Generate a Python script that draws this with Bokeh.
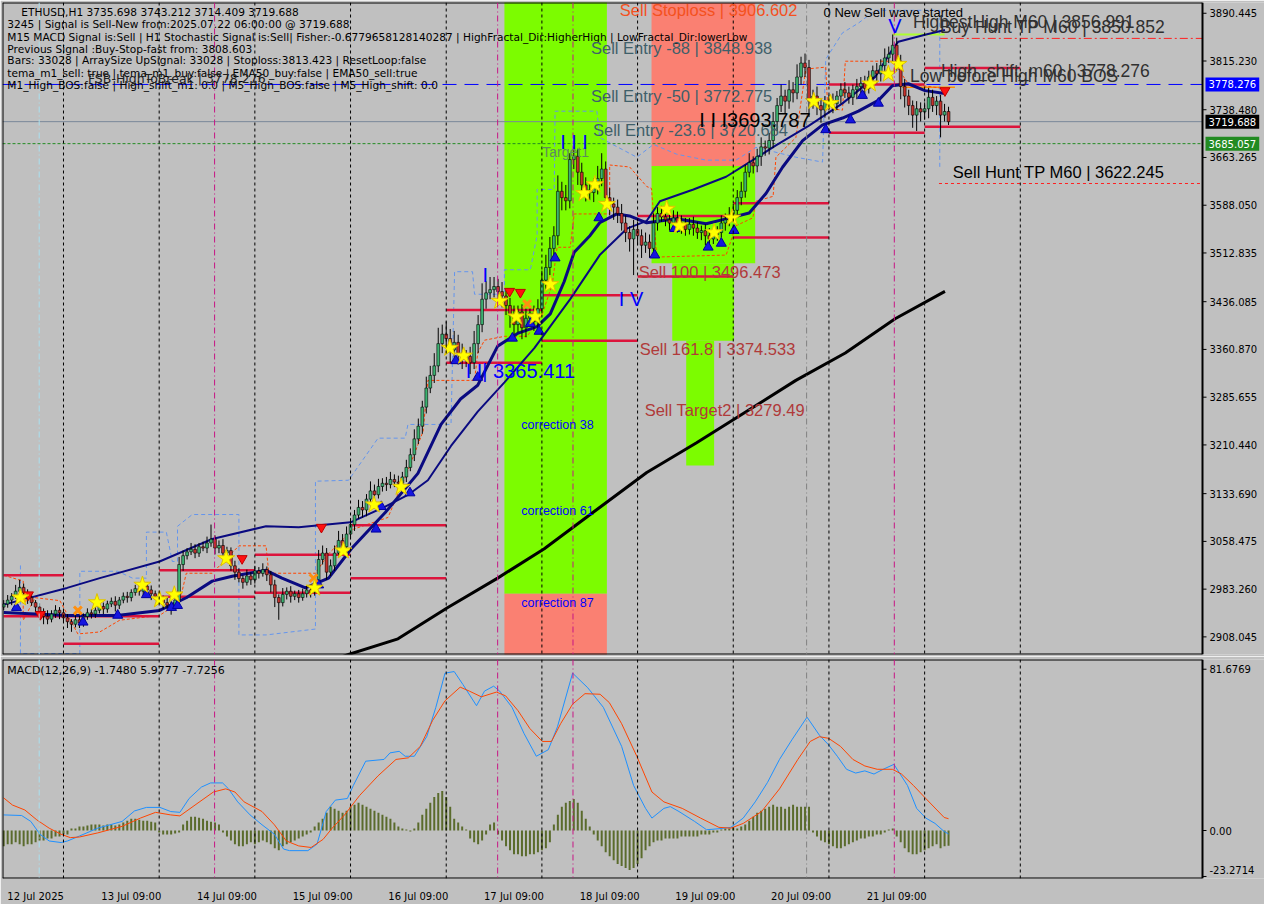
from bokeh.plotting import figure
from bokeh.layouts import column
from bokeh.models import Span, Label, FixedTicker, Range1d, ColumnDataSource
from bokeh.embed import file_html
from bokeh.resources import INLINE

# ---------------- data (ETHUSD H1, 12 Jul 09:00 -> 22 Jul 06:00) ----------------
close_d1 = [2960, 2966, 2972, 2980, 2986, 2978, 2970, 2962, 2955, 2948, 2940, 2936, 2944, 2950, 2946]
close_d2 = [2938, 2932, 2928, 2935, 2930, 2940, 2946, 2944, 2950, 2956, 2952, 2960, 2964, 2958, 2966, 2972,
            2970, 2978, 2984, 2980, 2988, 2982, 2976, 2972]
close_d3 = [2968, 2962, 2958, 2955, 2966, 3022, 3036, 3042, 3046, 3040, 3050, 3048, 3056, 3062, 3048, 3052,
            3040, 3044, 3020, 3010, 3000, 2994, 3004, 2998]
close_d4 = [3012, 3008, 3014, 3006, 2990, 2970, 2962, 2975, 2980, 2972, 2976, 2970, 2976, 2982, 2978, 2990,
            3030, 3040, 3010, 3020, 3040, 3060, 3050, 3070]
close_d5 = [3085, 3100, 3112, 3108, 3125, 3138, 3132, 3145, 3150, 3148, 3156, 3152, 3150, 3160, 3175, 3195,
            3220, 3240, 3270, 3300, 3320, 3335, 3370, 3385]
close_d6 = [3378, 3360, 3372, 3355, 3345, 3350, 3340, 3370, 3400, 3440, 3450, 3455, 3460, 3452, 3445, 3430,
            3415, 3400, 3420, 3395, 3410, 3418, 3405, 3425]
close_d7 = [3470, 3490, 3520, 3540, 3610, 3600, 3595, 3660, 3665, 3640, 3620, 3612, 3608, 3615, 3630, 3645,
            3600, 3590, 3585, 3575, 3560, 3545, 3535, 3550]
close_d8 = [3540, 3525, 3530, 3520, 3560, 3575, 3570, 3565, 3560, 3568, 3555, 3560, 3550, 3558, 3552, 3545,
            3548, 3540, 3535, 3542, 3545, 3560, 3565, 3570]
close_d9 = [3580, 3600, 3610, 3640, 3655, 3650, 3665, 3680, 3678, 3690, 3720, 3745, 3760, 3752, 3770, 3765,
            3790, 3812, 3805, 3752, 3760, 3745, 3738, 3750]
close_d10 = [3752, 3748, 3760, 3770, 3765, 3758, 3770, 3775, 3780, 3772, 3790, 3800, 3795, 3808, 3820, 3826,
             3840, 3815, 3775, 3760, 3745, 3730, 3740, 3735]
close_d11 = [3740, 3758, 3745, 3752, 3730, 3735.698, 3719.688]

upwick = ([6, 8, 5, 10, 12, 6, 5, 8, 4, 6, 5, 10, 6, 8, 5] +
          [5, 6, 4, 8, 6, 5, 7, 6, 5, 8, 6, 5, 6, 8, 5, 6, 7, 5, 6, 8, 5, 6, 7, 5] +
          [6, 5, 8, 6, 10, 12, 8, 6, 10, 8, 6, 8, 10, 23, 6, 8, 10, 6, 5, 8, 6, 5, 10, 6] +
          [8, 6, 10, 5, 6, 8, 5, 10, 6, 8, 5, 6, 8, 6, 5, 8, 15, 12, 8, 10, 12, 15, 10, 12] +
          [10, 8, 12, 10, 8, 15, 10, 12, 8, 10, 12, 8, 10, 8, 12, 10, 15, 12, 10, 18, 15, 20, 25, 15] +
          [20, 15, 18, 12, 15, 10, 15, 20, 15, 25, 18, 20, 15, 12, 15, 10, 12, 15, 10, 12, 15, 10, 12, 15] +
          [15, 20, 18, 15, 25, 15, 20, 10, 15, 12, 15, 12, 10, 15, 20, 25, 12, 15, 10, 12, 15, 12, 10, 15] +
          [12, 10, 15, 12, 15, 10, 12, 15, 10, 12, 10, 12, 8, 10, 12, 10, 8, 10, 12, 8, 10, 12, 10, 15] +
          [10, 12, 15, 12, 15, 10, 12, 15, 10, 12, 15, 12, 18, 10, 15, 12, 20, 10, 15, 12, 10, 15, 12, 10] +
          [10, 12, 8, 10, 12, 10, 8, 12, 10, 12, 10, 8, 12, 10, 15, 12, 17, 12, 10, 12, 10, 8, 12, 10] +
          [10, 15, 12, 8, 10, 12, 7.514])
downwick = ([5, 6, 8, 4, 6, 8, 10, 5, 8, 6, 12, 8, 5, 6, 10] +
            [8, 10, 12, 5, 8, 6, 5, 7, 6, 5, 8, 6, 5, 10, 6, 5, 8, 6, 5, 7, 6, 8, 10, 6] +
            [8, 10, 6, 12, 5, 8, 10, 6, 5, 8, 6, 5, 8, 6, 10, 8, 6, 10, 8, 12, 6, 10, 5, 8] +
            [6, 8, 5, 10, 12, 15, 27, 6, 8, 10, 6, 8, 5, 6, 8, 5, 6, 8, 12, 6, 8, 6, 10, 8] +
            [8, 10, 6, 12, 10, 8, 12, 6, 8, 10, 6, 8, 12, 10, 8, 6, 10, 8, 12, 10, 8, 12, 10, 15] +
            [15, 20, 12, 18, 15, 12, 18, 10, 15, 12, 15, 10, 12, 15, 18, 15, 20, 15, 12, 18, 15, 12, 15, 10] +
            [10, 15, 12, 18, 15, 20, 15, 12, 15, 20, 15, 18, 12, 15, 10, 12, 15, 18, 20, 15, 12, 15, 20, 57] +
            [15, 20, 12, 15, 10, 12, 8, 10, 12, 8, 10, 12, 10, 8, 12, 10, 12, 15, 10, 8, 10, 8, 12, 10] +
            [8, 10, 12, 10, 8, 12, 10, 15, 12, 10, 12, 15, 10, 20, 12, 15, 10, 12, 15, 25, 12, 15, 20, 12] +
            [12, 15, 10, 12, 8, 10, 12, 15, 10, 12, 8, 10, 15, 12, 10, 8, 12, 15, 20, 18, 15, 20, 25, 15] +
            [12, 15, 10, 15, 35, 10, 5.279])
first_open = 2955.0

day_labels = ["12 Jul 2025", "13 Jul 09:00", "14 Jul 09:00", "15 Jul 09:00", "16 Jul 09:00",
              "17 Jul 09:00", "18 Jul 09:00", "19 Jul 09:00", "20 Jul 09:00", "21 Jul 09:00"]
price_ticks = [3890.445, 3815.230, 3738.480, 3663.265, 3588.050, 3512.835, 3436.085, 3360.870,
               3285.655, 3210.440, 3133.690, 3058.475, 2983.260, 2908.045]
tag_values = [3778.276, 3719.688, 3685.057]
tag_texts = ["3778.276", "3719.688", "3685.057"]

# moving averages (bar index, price)
fast_ma_x = [0, 15.9, 28.4, 39.1, 45.8, 52.3, 57.3, 65.8, 69.8, 75.7, 81.5, 87.2, 95.7, 103.9, 109.7, 114.6,
             118.9, 123.9, 128.9, 133.8, 137.1, 140.6, 143.1, 147.1, 149.5, 153.8, 157.0, 161.3, 168.8, 176.2,
             181.2, 187.0, 191.2, 195.4, 200.4, 205.4, 210.4, 214.4, 219.4, 222.9, 226.9, 231.1, 236.1]
fast_ma_y = [2946.6, 2941.9, 2941.9, 2949.7, 2969.7, 2995.9, 3003.6, 3012.9, 3000.6, 2985.2, 3000.6, 3046.9,
             3103.9, 3165.6, 3242.7, 3282.8, 3304.4, 3366.1, 3386.1, 3396.9, 3417.0, 3467.9, 3514.1, 3540.4,
             3560.4, 3574.3, 3571.2, 3560.4, 3566.6, 3558.9, 3566.6, 3575.8, 3606.6, 3648.3, 3689.9, 3714.6,
             3725.4, 3736.2, 3753.2, 3776.3, 3779.4, 3768.6, 3764.0]
slow_ma_x = [0, 15.9, 24.1, 39.1, 52.3, 65.8, 74.0, 87.0, 95.7, 101.4, 106.4, 112.2, 118.9, 125.6, 133.1,
             142.1, 149.5, 156.3, 161.3, 164.6, 173.0, 181.2, 187.9, 193.7, 201.9, 210.4, 218.6, 222.9, 224.4,
             231.1, 236.1]
slow_ma_y = [2958.9, 2985.2, 3000.6, 3026.8, 3062.3, 3082.3, 3080.8, 3088.5, 3113.2, 3131.6, 3154.8, 3208.8,
             3262.8, 3309.0, 3363.0, 3440.1, 3509.5, 3551.1, 3563.5, 3594.3, 3612.8, 3632.9, 3659.1, 3682.2,
             3713.0, 3748.5, 3790.2, 3833.4, 3845.7, 3856.5, 3864.2]
sma200_x = [81.5, 86.5, 98.9, 111.4, 123.9, 135.6, 148.8, 161.3, 173.7, 186.2, 198.7, 211.1, 223.6, 236.1]
sma200_y = [2869.5, 2880.3, 2905.0, 2954.3, 3000.6, 3046.9, 3108.6, 3167.1, 3213.4, 3262.8, 3312.1, 3355.3,
            3409.2, 3452.4]

# dashed channel / trailing lines
chan_x = [4.2, 4.2, 19.1, 19.1, 28.6, 32.3, 35.8, 35.8, 40.8, 42.3, 43.6, 43.6, 47.3, 59.0, 59.0, 65.8, 78.2,
          78.2, 86.5, 93.9, 100.7, 101.4, 112.2, 113.1, 117.6, 118.1, 125.6, 125.6, 132.1, 133.8, 133.8, 138.1,
          138.3, 148.8, 149.5, 158.8, 163.0, 168.8, 176.2, 183.7, 188.7, 198.7, 205.4, 206.2, 210.4, 214.4,
          218.6, 234.8, 234.8]
chan_y = [3020.6, 2881.8, 2881.8, 3011.4, 3011.4, 3000.6, 3000.6, 3073.1, 3073.1, 3026.8, 3026.8, 3082.3,
          3100.8, 3100.8, 2911.1, 2911.1, 2920.4, 3153.3, 3154.8, 3221.1, 3221.1, 3242.7, 3242.7, 3483.3, 3483.3,
          3447.8, 3447.8, 3486.4, 3486.4, 3540.4, 3612.9, 3612.9, 3736.2, 3736.2, 3694.6, 3663.7, 3683.8,
          3668.4, 3659.1, 3659.1, 3679.2, 3663.7, 3656.0, 3818.0, 3859.6, 3875.0, 3895.1, 3895.1, 3648.3]
trail_x = [0, 4.9, 4.9, 7.9, 14.1, 18.6, 24.1, 29.1, 39.1, 44.1, 45.8, 52.3, 59.0, 65.8, 66.5, 78.2, 81.5,
           87.7, 96.4, 101.4, 105.2, 106.4, 118.1, 118.9, 120.6, 125.6, 131.3, 135.1, 137.6, 138.8, 142.1,
           143.1, 152.0, 152.0, 157.0, 161.3, 162.5, 163.8, 181.2, 183.7, 187.9, 188.7, 193.0, 193.7, 198.7,
           201.2, 206.2, 206.7, 210.4, 211.1, 222.9, 224.4, 226.9, 236.1]
trail_y = [3005.2, 2995.9, 2934.3, 2969.8, 2965.1, 2912.7, 2915.8, 2934.3, 2942.0, 2962.1, 3008.3, 3008.3,
           3051.5, 3051.5, 3008.3, 3008.3, 3039.1, 3077.7, 3096.2, 3170.3, 3231.9, 3312.1, 3312.1, 3355.3,
           3375.4, 3381.5, 3381.5, 3417.0, 3463.3, 3521.8, 3521.8, 3574.3, 3574.3, 3651.4, 3648.3, 3617.5,
           3614.4, 3506.4, 3509.5, 3555.8, 3568.1, 3594.3, 3602.1, 3663.7, 3694.6, 3802.5, 3805.6, 3740.9,
           3737.8, 3814.9, 3814.9, 3802.5, 3779.4, 3771.7]

# support / resistance segments
seg_start = [0, 0, 15, 39, 39, 63, 63, 87, 87, 111, 111, 135, 135, 159, 159, 183, 183, 207, 207, 231, 231]
seg_end = [15, 39, 39, 63, 63, 87, 87, 111, 111, 135, 135, 159, 159, 183, 183, 207, 207, 231, 231, 255, 255]
seg_price = [3005.2, 2940.4, 2897.3, 3012.9, 2971.3, 3037.6, 2977.4, 3083.9, 3000.6, 3423.1, 3339.9, 3446.3,
             3374.533, 3475.6, 3571.2, 3591.2, 3537.3, 3778.276, 3702.3, 3804.1, 3711.5]

# zones (left bar, right bar, bottom price, top price)
zone_left = [125.6, 125.6, 162.5, 162.5, 167.7, 171.2]
zone_right = [151.3, 151.3, 188.5, 188.5, 183.2, 178.2]
zone_bottom = [2975.9, 2860.0, 3649.9, 3496.473, 3374.533, 3177.9]
zone_top = [3950.0, 2975.9, 3906.602, 3649.9, 3496.473, 3374.533]
zone_color = ["#7CFC00", "#FA8072", "#FA8072", "#7CFC00", "#7CFC00", "#7CFC00"]

# signal markers
star_x = [4.2, 23.4, 34.8, 39.1, 42.8, 55.8, 78.0, 85.2, 92.9, 99.7, 111.9, 115.4, 124.4, 128.6, 133.3, 137.1,
          145.6, 148.3, 151.3, 166.3, 169.5, 178.2, 182.7, 203.2, 207.4, 217.4, 221.9, 224.4]
star_y = [2969.8, 2962.1, 2989.8, 2966.7, 2974.4, 3031.5, 2985.2, 3043.8, 3116.3, 3144.0, 3363.0, 3350.7,
          3437.0, 3412.4, 3412.4, 3463.3, 3606.7, 3620.6, 3589.7, 3582.0, 3555.8, 3545.0, 3568.1, 3751.7,
          3748.6, 3779.4, 3794.8, 3810.2]
up_x = [3.2, 19.9, 28.6, 35.8, 42.1, 43.6, 79.0, 93.4, 94.7, 101.9, 113.4, 118.9, 127.6, 132.1, 134.3, 138.3,
        149.3, 163.3, 168.3, 176.7, 180.0, 183.2, 206.2, 212.4, 215.4, 219.4]
up_y = [2954.3, 2931.2, 2942.0, 2974.4, 2954.3, 2957.4, 2989.8, 3077.7, 3113.2, 3134.8, 3343.0, 3316.8, 3378.5,
        3401.6, 3389.3, 3504.9, 3568.1, 3509.5, 3551.2, 3521.9, 3528.0, 3548.1, 3706.9, 3722.3, 3760.9, 3748.6]
down_x = [6.2, 9.2, 59.8, 79.7, 126.9, 129.6, 236.1]
down_y = [2974.4, 2943.5, 3031.5, 3080.8, 3452.5, 3450.9, 3768.6]
cross_x = [4.7, 18.6, 77.7, 131.3]
cross_y = [2969.8, 2949.7, 3000.6, 3432.4]

# MACD(12,26,9)
macd_x = [0, 4.5, 6.8, 9.1, 11.4, 14.4, 16, 19, 23.6, 29.7, 32.8, 35.8, 39.2, 41.9, 44.2, 46.5, 49.6, 51.9,
          54.9, 56.4, 58.7, 61.8, 64.8, 67.9, 70.2, 71.7, 76.3, 78.6, 80.9, 83.2, 86.2, 87.7, 90.8, 95.4, 96.9,
          99.2, 100.7, 103, 106.1, 108.4, 110.7, 113, 115.2, 118.6, 120.6, 122.9, 124.4, 127.5, 130.5, 133.6,
          136.6, 138.9, 142.7, 146.5, 150.4, 155, 158, 161, 162.6, 165.6, 167.2, 169.4, 173.3, 176.3, 179.4,
          182.4, 185.5, 188.5, 191.6, 194.6, 197.7, 201.5, 204.6, 206.9, 209.1, 211.4, 213.7, 216, 218.3, 220.6,
          223.3, 226.7, 229, 231.3, 233.6, 235.9, 237]
macd_y = [7.9, 7.6, 4.6, -1.9, -5.3, -6.1, -5.3, -2.8, 1.2, 4.6, 9.9, 11.7, 11.7, 9.6, 9.2, 16.2, 22.0, 24.1,
          24.1, 21.1, 14.5, 7.9, 2.9, -1.9, -9.4, -10.2, -10.2, -6.9, 9.6, 15.4, 16.2, 22.8, 35.1, 36.0, 39.3,
          40.1, 37.6, 37.6, 47.5, 62.4, 79.7, 80.5, 73.9, 63.2, 70.6, 73.1, 70.6, 62.4, 49.2, 37.6, 40.9, 52.5,
          79.7, 72.3, 62.4, 42.6, 22.8, 11.2, 6.3, 11.2, 12.1, 9.6, 4.6, 0.4, 0.9, 1.6, 6.3, 14.5, 24.4, 36.0,
          45.9, 57.4, 48.3, 43.4, 37.6, 31.0, 29.1, 30.2, 28.6, 31.0, 33.5, 22.8, 11.2, 6.3, 3.6, -0.5, -1.748]
signal_x = [0, 2.2, 5.3, 8.3, 11.4, 14.4, 16.7, 19, 23.6, 29.7, 34.3, 38.1, 41.9, 44.2, 48, 52.6, 55.7, 58,
            60.3, 64.8, 67.9, 70.9, 74, 77.1, 80.1, 82.4, 85.5, 89.3, 93.9, 98.4, 101.5, 104.5, 107.6, 110.7,
            114.5, 116.8, 119.8, 123.6, 125.9, 129, 132, 135.1, 137.4, 139.7, 142.7, 145.8, 149.6, 151.9, 155,
            158.8, 162.6, 165.6, 170.2, 174.8, 179.4, 182.4, 185.5, 190.1, 194.6, 199.2, 202.3, 204.6, 206.9,
            209.9, 213, 216, 219.1, 222.9, 225.2, 228.2, 231.3, 235.9, 237]
signal_y = [16.5, 12.9, 10.4, 5.4, 1.2, -1.9, -3.6, -3.3, -1.2, 2.1, 6.3, 9.2, 7.9, 7.4, 12.9, 19.5, 21.1, 19.5,
            14.5, 9.6, 2.9, -5.3, -7.8, -8.6, -4.5, 1.2, 7.9, 17.8, 27.7, 36.0, 36.8, 42.6, 55.8, 65.7, 72.6,
            70.6, 67.7, 70.1, 68.2, 60.7, 51.6, 45.1, 45.1, 54.1, 64.0, 69.3, 69.0, 64.8, 54.1, 37.6, 19.5, 14.5,
            11.2, 6.3, 1.6, 1.2, 3.6, 9.6, 21.1, 36.0, 45.1, 47.5, 46.7, 42.6, 36.0, 32.7, 31.0, 31.0, 28.6, 22.8,
            16.2, 6.6, 5.98]
macd_hist = ([-8, -7, -7, -6, -7, -8, -7, -7, -6] + [-5, -5, -4, -4, -3, -3, -2, -2] +
             [1, 1, 2, 2, 2.5, 3, 3, 3, 2.5, 3, 3, 2.5, 3] + [4, 5, 6, 6, 5.5, 5, 5, 4.5, 4] +
             [-1, -2, -2, -2, -1.5, -1] + [3, 5, 7, 7, 6.5, 6, 5, 4.5, 4, 3] +
             [-1, -3, -5, -7, -8, -8, -7, -6, -7, -6, -5, -6, -7, -9, -10] + [-8, -7, -6, -5, -4, -3, -2, -1] +
             [2, 4, 6, 9, 12, 11, 10] + [9, 10, 12, 13, 14, 13, 12, 11, 10, 9, 8, 7, 6, 4] + [2, 1, 0.5, -0.5, 1] +
             [4, 8, 11, 14, 17, 19, 20, 17, 12] + [6, 4, 2, 0.5] + [-4, -6, -7, -5, -2] + [3, 4] +
             [-2, -5, -8, -10, -12, -12, -13, -13, -12, -12, -11, -10, -9, -6] + [3, 8, 12, 14, 15, 16, 14, 10, 6, 2] +
             [-2, -5, -8, -11, -13, -15, -17, -18, -19, -20, -19, -17, -14, -10, -8, -6] +
             [-5, -5, -4, -4, -4, -4, -3, -3, -3, -3, -3, -2, -2, -2, -1, -1] + [0.5, 1, 1, 1.5, 1] +
             [2, 3, 5, 7, 9, 10, 11, 12, 13, 12, 12, 11, 12, 13, 12, 12, 12, 12] +
             [-1, -3, -5, -6, -7, -8, -9, -9, -8, -7, -6, -5, -4, -4, -3, -3, -2, -2, -1, 0.5, 1] +
             [-3, -6, -9, -11, -12, -12, -11, -10, -9, -8, -7, -9, -8, -7.7256])
macd_ticks = [81.6769, 0.0, -23.2714]
macd_tick_labels = ["81.6769", "0.00", "-23.2714"]

# ---------------- derived candle arrays ----------------
closes = close_d1 + close_d2 + close_d3 + close_d4 + close_d5 + close_d6 + close_d7 + close_d8 + close_d9 + close_d10 + close_d11
bars = list(range(len(closes)))
opens = [first_open] + closes[:-1]
highs = [max(o, c) + u for o, c, u in zip(opens, closes, upwick)]
lows = [min(o, c) - d for o, c, d in zip(opens, closes, downwick)]
col = ["#3CB371" if c >= o else "#C8322D" for o, c in zip(opens, closes)]
csrc = ColumnDataSource(dict(x=bars, o=opens, c=closes, h=highs, l=lows, col=col))

# ---------------- reference pixel helpers (for annotation placement) ----------------
def bx(px):
    return (px - 3.3) / 4.01

def py(pix):
    return 3890.445 - (pix - 13) * 1.5422

def my(pix):
    return (846 - pix) / 2.02

BG = "#C0C0C0"
W = 1264
LEFT, RIGHT = -0.3, 300.7          # chart area in bar units (first 1200 px of the frame)
BOT, TOP = 2880.3, 3907.4
MBOT, MTOP = -24.3, 86.6
XR = Range1d(LEFT, LEFT + (RIGHT - LEFT) * 1262 / 1200)   # frame also holds the scale column

common = dict(width=W, x_range=XR, output_backend="svg", toolbar_location=None, y_axis_location=None,
              min_border_left=2, min_border_right=0, background_fill_color=BG, border_fill_color=BG)
p1 = figure(height=656, y_range=Range1d(BOT, TOP), x_axis_location=None,
            min_border_top=2, min_border_bottom=2, **common)
p2 = figure(height=248, y_range=Range1d(MBOT, MTOP), min_border_top=3, min_border_bottom=22, **common)

for p in (p1, p2):
    p.grid.visible = False
    p.outline_line_color = None

xa = p2.xaxis[0]
xticks = [i * 24 + 8 for i in range(len(day_labels))]
xa.ticker = FixedTicker(ticks=xticks)
xa.major_label_overrides = {t: s for t, s in zip(xticks, day_labels)}
xa.axis_line_color = None
xa.major_tick_line_color = None
xa.minor_tick_line_color = None
xa.major_label_text_font = "DejaVu Sans"
xa.major_label_text_font_size = "10px"
xa.major_label_text_color = "black"
xa.major_label_standoff = 6

# zones
p1.quad(left=zone_left, right=zone_right, bottom=zone_bottom, top=zone_top, fill_color=zone_color,
        line_color=None)

# vertical separators
for p in (p1, p2):
    for b in [15, 39, 63, 87, 111, 135, 159, 183, 207, 231, 255]:
        p.add_layout(Span(location=b, dimension="height", line_color="black", line_dash="3 3", line_width=1))
    for b in [52.9, 123.9, 142.8, 223.4]:
        p.add_layout(Span(location=b, dimension="height", line_color="#C71585", line_dash="6 3 1 3", line_width=1))
    p.add_layout(Span(location=8.9, dimension="height", line_color="#A8E0F0", line_dash="6 3 1 3", line_width=1))
    p.add_layout(Span(location=201.4, dimension="height", line_color="#808080", line_dash="6 3 1 3", line_width=1))

# horizontal reference lines (end at the chart border)
p1.segment(x0=[LEFT], x1=[RIGHT], y0=[tag_values[0]], y1=[tag_values[0]], line_color="#0000FF", line_dash="14 8", line_width=1)
p1.segment(x0=[LEFT], x1=[RIGHT], y0=[tag_values[1]], y1=[tag_values[1]], line_color="#7A8899", line_width=1)
p1.segment(x0=[LEFT], x1=[RIGHT], y0=[tag_values[2]], y1=[tag_values[2]], line_color="#228B22", line_dash="3 2", line_width=1)
p1.segment(x0=[234.8], x1=[RIGHT], y0=[3850.852], y1=[3850.852], line_color="#FF2020", line_dash="8 3 2 3", line_width=1)
p1.segment(x0=[234.6], x1=[RIGHT], y0=[3622.245], y1=[3622.245], line_color="#FF2020", line_dash="3 3", line_width=1)
p1.segment(x0=[223], x1=[236], y0=[3856.991], y1=[3856.991], line_color="#ADFF2F", line_width=2)
p1.segment(x0=[225.4], x1=[238.6], y0=[3774.0], y1=[3774.0], line_color="#FF8C00", line_width=1.5)

# dashed channel and trailing stop
p1.line(chan_x, chan_y, line_color="#6495ED", line_dash="4 3", line_width=1)
p1.line(trail_x, trail_y, line_color="#FF4500", line_dash="3 2", line_width=1)

# support / resistance segments
p1.segment(x0=seg_start, x1=seg_end, y0=seg_price, y1=seg_price, line_color="#DC143C", line_width=2.5)

# moving averages
p1.line(sma200_x, sma200_y, line_color="black", line_width=3)
p1.line(slow_ma_x, slow_ma_y, line_color="#0A0A80", line_width=2)
p1.line(fast_ma_x, fast_ma_y, line_color="#0A0A80", line_width=3)

# candles
p1.segment(x0="x", x1="x", y0="l", y1="h", source=csrc, line_color="black", line_width=1)
p1.vbar(x="x", width=0.7, top="o", bottom="c", source=csrc, fill_color="col", line_color="black", line_width=0.6)

# markers
p1.scatter(up_x, up_y, marker="triangle", size=10, fill_color="#1515E0", line_color="#0000A0")
p1.scatter(down_x, down_y, marker="inverted_triangle", size=10, fill_color="#FF1010", line_color="#C00000")
p1.scatter(cross_x, cross_y, marker="x", size=11, line_color="#FF9010", line_width=3)
p1.scatter(star_x, star_y, marker="star", size=18, fill_color="#FFFF00", line_color="#E0C000", line_width=1)

# MACD pane
p2.vbar(x=bars, top=macd_hist, bottom=0, width=0.5, fill_color="#5A6B2C", line_color=None)
p2.line(macd_x, macd_y, line_color="#1E90FF", line_width=1)
p2.line(signal_x, signal_y, line_color="#FF4500", line_width=1)

# chart borders + scale columns
def scale_column(p, lo, hi, ticks, texts, offsets):
    p.segment(x0=[LEFT, LEFT, LEFT, RIGHT], x1=[RIGHT, RIGHT, LEFT, RIGHT],
              y0=[lo, hi, lo, lo], y1=[lo, hi, hi, hi], line_color="black", line_width=2)
    p.segment(x0=[RIGHT] * len(ticks), x1=[RIGHT + 1.0] * len(ticks), y0=ticks, y1=ticks,
              line_color="black", line_width=1)
    for t, s, off in zip(ticks, texts, offsets):
        p.add_layout(Label(x=RIGHT, y=t, x_offset=7, y_offset=off, text=s, text_font="DejaVu Sans",
                           text_font_size="10px", text_color="black", text_baseline="middle",
                           text_align="left"))

scale_column(p1, BOT, TOP, price_ticks, [f"{t:.3f}" for t in price_ticks], [0] * len(price_ticks))
scale_column(p2, MBOT, MTOP, macd_ticks, macd_tick_labels, [0, 0, 6])
for val, txt, bgc in zip(tag_values, tag_texts, ["#0000FF", "black", "#228B22"]):
    p1.add_layout(Label(x=RIGHT, y=val, x_offset=3, text=txt, text_font="DejaVu Sans",
                        text_font_size="10px", text_color="white", background_fill_color=bgc,
                        text_baseline="middle", text_align="left", padding=3))

# ---------------- texts ----------------
def lab(p, text, x, y, size, color, font="Liberation Sans", yfun=py):
    p.add_layout(Label(x=bx(x), y=yfun(y), text=text, text_font=font, text_font_size=size,
                       text_color=color, text_baseline="middle", text_align="left"))

info = ["ETHUSD,H1  3735.698 3743.212 3714.409 3719.688",
        "3245 | Signal is Sell-New from:2025.07.22 06:00:00 @ 3719.688",
        "M15 MACD Signal is:Sell | H1 Stochastic Signal is:Sell| Fisher:-0.6779658128140287 | HighFractal_Dir:HigherHigh | LowFractal_Dir:lowerLow",
        "Previous Signal :Buy-Stop-fast from: 3808.603",
        "Bars: 33028 | ArraySize UpSignal: 33028 | Stoploss:3813.423 | ResetLoop:false",
        "tema_m1_sell: true | tema_m1_buy:false | EMA50_buy:false | EMA50_sell:true",
        "M1_High_BOS:false | High_shift_m1: 0.0 | M5_High_BOS:false | M5_High_shift: 0.0"]
info_y = [12, 24, 37, 49, 61, 74, 86]
for i, (t, yy) in enumerate(zip(info, info_y)):
    lab(p1, t, 21 if i == 0 else 7, yy, "10.6px", "black", "DejaVu Sans")
lab(p1, "FSB-HighToBreak | 3778.276", 88, 80, "12.5px", "#202020", "DejaVu Sans")

lab(p1, "Sell Stoploss | 3906.602", 623, 10, "16.5px", "#F4511E")
lab(p1, "Sell Entry -88 | 3848.938", 594, 48, "16.5px", "#3F5F6A")
lab(p1, "Sell Entry -50 | 3772.775", 594, 98, "16.5px", "#3F5F6A")
lab(p1, "Sell Entry -23.6 | 3720.684", 596, 132, "16.5px", "#3F5F6A")
lab(p1, "Target1", 545, 155, "14px", "#5E8B5E")
lab(p1, "I I I", 563, 144, "20px", "#0000FF")
lab(p1, "I I I3693.787", 703, 122, "20px", "black")
lab(p1, "I V", 622, 305, "20px", "#0000FF")
lab(p1, "I", 485, 280, "20px", "#0000FF")
lab(p1, "I I| 3365.411", 468, 378, "20px", "#0000FF")
lab(p1, "V", 893, 26, "20px", "#0000FF")
lab(p1, "0 New Sell wave started", 828, 12, "13px", "black")
lab(p1, "HighestHigh   M60 | 3856.991", 918, 22, "17.5px", "#303030")
lab(p1, "Buy Hunt TP M60 | 3850.852", 945, 27, "17.5px", "#303030")
lab(p1, "High_shift_m60 | 3778.276", 946, 72, "17.5px", "#303030")
lab(p1, "Low before High   M60 BOS", 915, 77, "17.5px", "#303030")
lab(p1, "Sell Hunt TP M60 | 3622.245", 958, 175, "16.5px", "black")
lab(p1, "Sell 100 | 3496.473", 642, 277, "16.5px", "#B03A3A")
lab(p1, "Sell 161.8 | 3374.533", 643, 356, "16.5px", "#B03A3A")
lab(p1, "Sell Target2 | 3279.49", 648, 418, "16.5px", "#B03A3A")
lab(p1, "correction 38", 524, 434, "12.5px", "#0000FF")
lab(p1, "correction 61", 524, 521, "12.5px", "#0000FF")
lab(p1, "correction 87", 524, 615, "12.5px", "#0000FF")
lab(p2, "MACD(12,26,9) -1.7480 5.9777 -7.7256", 7, 682, "11px", "black", "DejaVu Sans", yfun=my)

layout = column(p1, p2, spacing=0)
open("out.html", "w").write(file_html(layout, INLINE))
